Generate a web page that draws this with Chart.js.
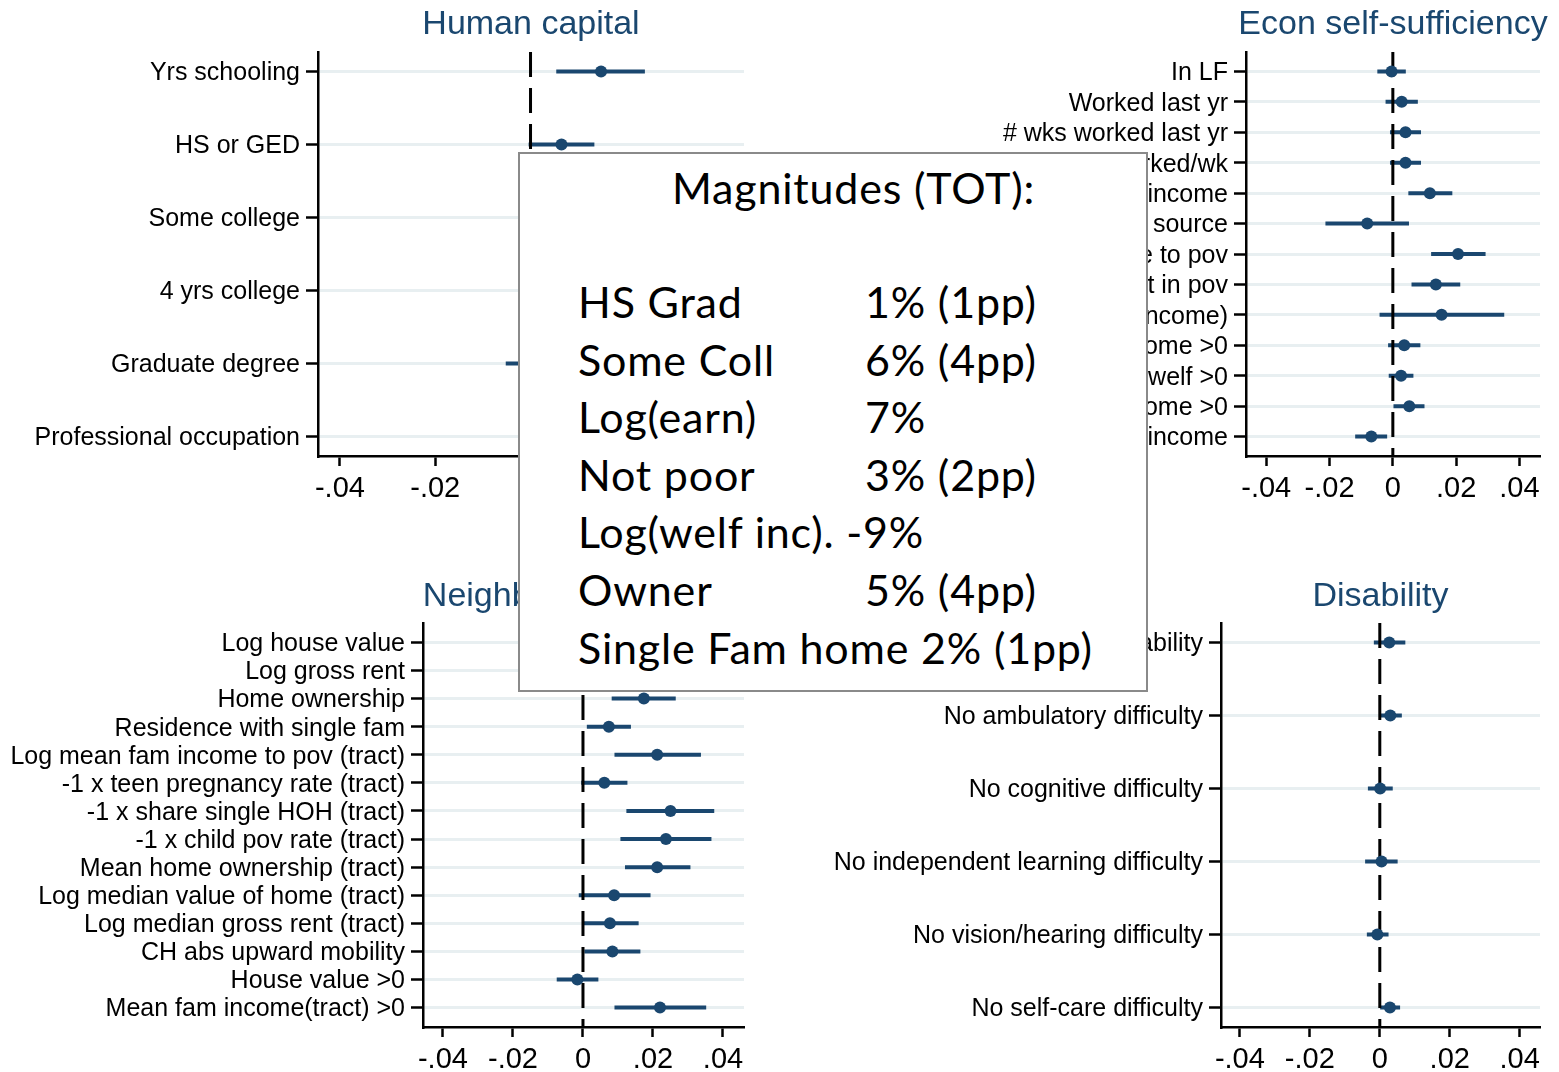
<!DOCTYPE html>
<html>
<head>
<meta charset="utf-8">
<script src="https://cdn.jsdelivr.net/npm/chart.js@4.4.1/dist/chart.umd.min.js"></script>
<style>
  body { margin: 0; background: #fff; width: 1559px; height: 1072px; overflow: hidden; position: relative; }
  canvas { position: absolute; }
  #box { position: absolute; left: 518px; top: 152px; width: 626px; height: 536px; border: 2px solid #8a8a8a; background: #fff; }
  .t { position: absolute; font-family: Lato, "Noto Sans", sans-serif; white-space: pre; color: #000; }
</style>
</head>
<body>
<canvas id="hc" width="760" height="510" style="left:0px;top:0px"></canvas>
<canvas id="es" width="779" height="510" style="left:780px;top:0px"></canvas>
<canvas id="nb" width="760" height="502" style="left:0px;top:570px"></canvas>
<canvas id="ds" width="779" height="502" style="left:780px;top:570px"></canvas>
<div id="box"></div>
<div id="txt"></div>

<script>
// ------------ data -----------------------

var xTicks = [-0.04, -0.02, 0, 0.02, 0.04];
var xTickLabels = ["-.04", "-.02", "0", ".02", ".04"];

// human capital
var hcLabels = ["Yrs schooling", "HS or GED", "Some college", "4 yrs college", "Graduate degree", "Professional occupation"];
var hcCoef = [0.0148, 0.0065, 0.012, 0.006, 0.004, 0.009];
var hcLo = [0.0054, -0.0004, 0.003, 0.0, -0.0052, 0.001];
var hcHi = [0.024, 0.0134, 0.021, 0.012, 0.013, 0.017];

// econ self-sufficiency
var esLabels = ["In LF", "Worked last yr", "# wks worked last yr", "Hours worked/wk", "Log earned income",
  "Income from any source", "Log fam income to pov", "Not in pov", "Log(welf income)", "Earned income >0",
  "Inc from welf >0", "Fam income >0", "Log welfare income"];
var esCoef = [-0.0004, 0.0028, 0.004, 0.004, 0.0117, -0.0081, 0.0206, 0.0136, 0.0154, 0.0036, 0.0026, 0.0052, -0.0068];
var esLo = [-0.0049, -0.0023, -0.0009, -0.0009, 0.0049, -0.0213, 0.0121, 0.0059, -0.0042, -0.0015, -0.0013, 0.0002, -0.0119];
var esHi = [0.0041, 0.0079, 0.0089, 0.0089, 0.0188, 0.0051, 0.0293, 0.0213, 0.0352, 0.0087, 0.0065, 0.01, -0.0018];

// neighborhood
var nbLabels = ["Log house value", "Log gross rent", "Home ownership", "Residence with single fam",
  "Log mean fam income to pov (tract)", "-1 x teen pregnancy rate (tract)", "-1 x share single HOH (tract)",
  "-1 x child pov rate (tract)", "Mean home ownership (tract)", "Log median value of home (tract)",
  "Log median gross rent (tract)", "CH abs upward mobility", "House value >0", "Mean fam income(tract) >0"];
var nbCoef = [0.011, 0.004, 0.0174, 0.0074, 0.0212, 0.0061, 0.025, 0.0237, 0.0212, 0.0089, 0.0077, 0.0084, -0.0016, 0.022];
var nbLo = [0.002, -0.004, 0.0082, 0.0011, 0.009, -0.0005, 0.0124, 0.0107, 0.012, -0.0012, -0.0002, 0.0004, -0.0075, 0.009];
var nbHi = [0.02, 0.012, 0.0265, 0.0137, 0.0337, 0.0127, 0.0375, 0.0367, 0.0307, 0.0193, 0.0159, 0.0164, 0.0044, 0.0352];

// disability
var dsLabels = ["No disability", "No ambulatory difficulty", "No cognitive difficulty",
  "No independent learning difficulty", "No vision/hearing difficulty", "No self-care difficulty"];
var dsCoef = [0.0027, 0.003, 0.0001, 0.0005, -0.0007, 0.0029];
var dsLo = [-0.0017, 0.0001, -0.0034, -0.0042, -0.0037, 0.0001];
var dsHi = [0.0073, 0.0063, 0.0037, 0.0051, 0.0025, 0.0058];

// magnitudes box
var magTitle = "Magnitudes (TOT):";
var magNames = ["HS Grad", "Some Coll", "Log(earn)", "Not poor", "Log(welf inc). -9%", "Owner", "Single Fam home 2% (1pp)"];
var magValues = ["1% (1pp)", "6% (4pp)", "7%", "3% (2pp)", "", "5% (4pp)", ""];

// ------------ style -----------------------

var navy = "#1a476f";
var fam = '"Liberation Sans", Arial, sans-serif';

var titlePlugin = {
  id: "ptitle",
  afterDraw: function (chart) {
    var o = chart.options.plugins.ptitle;
    var ca = chart.chartArea;
    var ctx = chart.ctx;
    ctx.save();
    ctx.font = "34px " + fam;
    ctx.fillStyle = navy;
    ctx.textAlign = "center";
    ctx.textBaseline = "alphabetic";
    ctx.fillText(o.text, (ca.left + ca.right) / 2, o.y);
    ctx.restore();
  }
};

// ------------ panels -----------------------

function panel(id, title, titleY, labels, coef, lo, hi, yWidth, xHeight, padTop, padRight, xMin, xMax) {
  var n = labels.length;
  var s = (404 - 38.8) / (n - 1);
  var p = 19.4 / s;

  var bars = [];
  for (var i = 0; i < n; i++) {
    bars.push({ x: lo[i], y: i + 1 }, { x: hi[i], y: i + 1 }, { x: null, y: null });
  }
  var pts = coef.map(function (v, i) { return { x: v, y: i + 1 }; });

  return new Chart(document.getElementById(id), {
    type: "scatter",
    data: {
      datasets: [
        { data: pts, pointRadius: 6, pointHoverRadius: 6, backgroundColor: navy, borderWidth: 0, order: 1 },
        { type: "line", data: [{ x: 0, y: 1 - p }, { x: 0, y: n + p }], borderColor: "#000", borderWidth: 3,
          borderDash: [25, 11], pointRadius: 0, order: 2 },
        { type: "line", data: bars, borderColor: navy, borderWidth: 4, pointRadius: 0, spanGaps: false, order: 3 }
      ]
    },
    options: {
      responsive: false,
      animation: false,
      devicePixelRatio: 1,
      layout: { padding: { top: padTop, right: padRight, left: 0, bottom: 0 } },
      plugins: {
        legend: { display: false },
        tooltip: { enabled: false },
        ptitle: { text: title, y: titleY }
      },
      scales: {
        x: {
          type: "linear",
          min: xMin,
          max: xMax,
          afterBuildTicks: function (sc) { sc.ticks = xTicks.map(function (v) { return { value: v }; }); },
          afterFit: function (sc) { sc.height = xHeight; },
          ticks: {
            callback: function (v, i) { return xTickLabels[i]; },
            color: "#000", font: { size: 29, family: fam }, padding: 6, maxRotation: 0, autoSkip: false
          },
          grid: { drawOnChartArea: false, tickLength: 10, tickColor: "#000", tickWidth: 2.5 },
          border: { color: "#000", width: 2.5 }
        },
        y: {
          type: "linear",
          reverse: true,
          min: 1 - p,
          max: n + p,
          afterBuildTicks: function (sc) { sc.ticks = labels.map(function (l, i) { return { value: i + 1 }; }); },
          afterFit: function (sc) { sc.width = yWidth; },
          ticks: {
            callback: function (v) { return labels[Math.round(v) - 1]; },
            color: "#000", font: { size: 25, family: fam }, padding: 6, autoSkip: false, labelOffset: 2
          },
          grid: { color: "#e8eff1", lineWidth: 3, tickColor: "#000", tickWidth: 2.5, tickLength: 12 },
          border: { color: "#000", width: 2.5 }
        }
      }
    },
    plugins: [titlePlugin]
  });
}

panel("hc", "Human capital", 34, hcLabels, hcCoef, hcLo, hcHi, 318, 54, 52, 16, -0.0446, 0.0448);
panel("es", "Econ self-sufficiency", 34, esLabels, esCoef, esLo, esHi, 466, 54, 52, 19, -0.0464, 0.0465);
panel("nb", "Neighborhood quality", 36, nbLabels, nbCoef, nbLo, nbHi, 423, 45, 53, 16, -0.0457, 0.046);
panel("ds", "Disability", 36, dsLabels, dsCoef, dsLo, dsHi, 441, 45, 53, 19, -0.0454, 0.0458);

// ------------ magnitudes box text -----------------------

var F = 43;
var mctx = document.createElement("canvas").getContext("2d");
mctx.font = F + "px Lato";
var longest = magNames[6];
var ls = (514 - mctx.measureText(longest).width) / (longest.length - 1);

var txt = document.getElementById("txt");
function addText(str, x, base) {
  var d = document.createElement("div");
  d.className = "t";
  d.textContent = str;
  d.style.fontSize = F + "px";
  d.style.lineHeight = (1.2 * F) + "px";
  d.style.left = x + "px";
  d.style.top = (base - 0.987 * F) + "px";
  d.style.letterSpacing = ls + "px";
  txt.appendChild(d);
}

addText(magTitle, 672, 204);
var bases = [318, 376, 433, 491, 548, 606, 664];
for (var k = 0; k < magNames.length; k++) {
  addText(magNames[k], 578, bases[k]);
  if (magValues[k]) addText(magValues[k], 865, bases[k]);
}
</script>
</body>
</html>
